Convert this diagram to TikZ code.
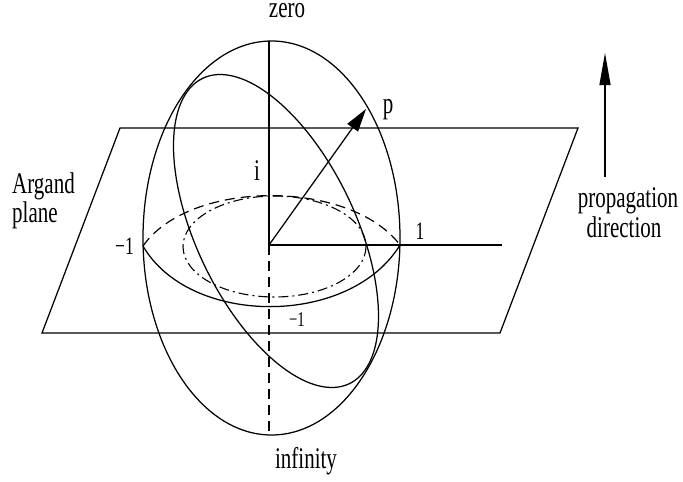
\documentclass[tikz,border=0pt]{standalone}
\usepackage{fontspec}
\newfontfamily\lblfont[FakeStretch=0.7]{Liberation Serif}
\usetikzlibrary{arrows.meta}
\tikzset{
  lab/.style={font=\lblfont\fontsize{30}{32}\selectfont, inner sep=0pt, anchor=base},
  smalllab/.style={font=\lblfont\fontsize{21}{23}\selectfont, inner sep=0pt, anchor=base},
  midlab/.style={font=\lblfont\fontsize{25}{27}\selectfont, inner sep=0pt, anchor=base},
  ln/.style={line width=1.25pt},
  dashln/.style={line width=1.2pt, dash pattern=on 10pt off 6pt},
  dashdotln/.style={line width=1.1pt, dash pattern=on 10pt off 4pt on 2pt off 4pt},
  bigtip/.style={-{Triangle[length=23pt,width=13pt]}},
  proptip/.style={-{Triangle[length=32pt,width=11pt]}}
}
\begin{document}
\begin{tikzpicture}[x=1pt,y=-1pt]
\useasboundingbox (0,0) rectangle (683,482);
% plane
\coordinate (PA) at (120,128);
\coordinate (PB) at (578,128);
\coordinate (PC) at (500,333);
\coordinate (PD) at (42,333);
\draw[ln] (PA) -- (PB) -- (PC) -- (PD) -- cycle;
% sphere outline
\draw[ln] (271.5,238) ellipse [x radius=128.5, y radius=197];
% key points
\coordinate (O) at (269,245);
\coordinate (Top) at (269,41);
\coordinate (Bot) at (269,435);
\coordinate (L) at (143,246);
\coordinate (R) at (400,245);
\coordinate (Rend) at (502,245);
\coordinate (P) at (366,109);
% axes
\draw[ln] (Top) -- (O);
\draw[dashln] (O) -- (Bot);
\draw[ln] (O) -- (Rend);
% equator arcs
\draw[ln] (L) .. controls (190,327) and (350,327) .. (R);
\draw[dashln] (L) .. controls (190,179) and (350,179) .. (R);
% dash-dot ellipse
\draw[dashdotln] (274.5,246.5) ellipse [x radius=91.5, y radius=50.5];
% tilted great circle
\draw[ln] plot[domain=0:360, samples=145, smooth] ({276+102.5*cos(\x)}, {231-156.5*cos(\x-123)}) -- cycle;
% arrow to p
\draw[ln, bigtip] (O) -- (P);
% propagation arrow
\coordinate (PrB) at (605,177);
\coordinate (PrT) at (605,53);
\draw[ln, proptip] (PrB) -- (PrT);
% labels
\node[lab] (zero) at (287,17) {zero};
\node[lab] (plab) at (388,113) {p};
\node[lab] (ilab) at (257,180) {i};
\node[midlab, anchor=base east] (m1l) at (134,254) {−1};
\node[midlab] (one) at (420,239) {1};
\node[smalllab] (m1b) at (297,326) {−1};
\node[lab] (inf) at (306,468) {infinity};
\node[lab, anchor=base west] (arg1) at (12,193) {Argand};
\node[lab, anchor=base west] (arg2) at (12,222) {plane};
\node[lab] (prop1) at (628,207) {propagation};
\node[lab] (prop2) at (624,237) {direction};
\end{tikzpicture}
\end{document}
